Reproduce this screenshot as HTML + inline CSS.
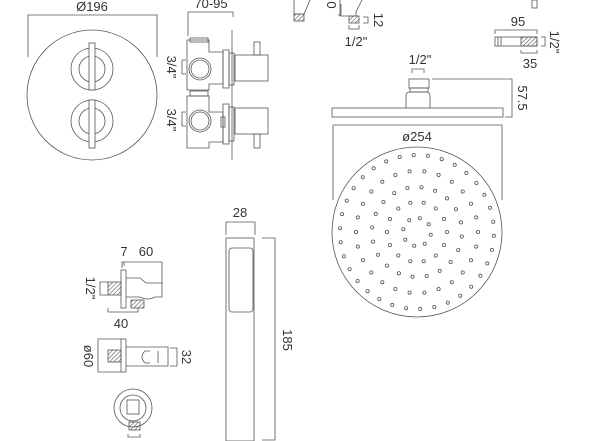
<!DOCTYPE html>
<html><head><meta charset="utf-8"><style>
html,body{margin:0;padding:0;background:#fff;width:600px;height:441px;overflow:hidden}
svg{display:block}
text{font-family:"Liberation Sans",sans-serif;font-size:13px;fill:#333}
</style></head><body>
<svg id="s" width="600" height="441" viewBox="0 0 600 441" xmlns="http://www.w3.org/2000/svg">
<defs>
<pattern id="h" width="3" height="3" patternUnits="userSpaceOnUse" patternTransform="rotate(45)"><line x1="0" y1="0" x2="0" y2="3" stroke="#555" stroke-width="1.2"/></pattern>
</defs>
<g fill="none" stroke="#555" stroke-width="0.8">
<path d="M28 57V15H157V57"/>
<circle cx="92" cy="95" r="65"/>
<circle cx="92" cy="69" r="21"/><circle cx="92" cy="69" r="13"/>
<rect x="89" y="43" width="6" height="47" fill="#fff"/>
<circle cx="92" cy="121" r="21"/><circle cx="92" cy="121" r="13"/>
<rect x="89" y="100" width="6" height="48" fill="#fff"/>
<path d="M188 36V12H233V17"/>
<line x1="232" y1="30" x2="232" y2="160"/>
<path d="M187 40H209V52H223V84H209V90H187Z"/>
<rect x="190" y="38" width="18" height="4"/>
<circle cx="200" cy="69" r="11"/><circle cx="200" cy="69" r="9"/>
<path d="M187 96H209V112H223V142H209V148H187Z"/>
<rect x="190" y="91" width="18" height="5"/>
<circle cx="200" cy="121" r="11"/><circle cx="200" cy="121" r="9"/>
<rect x="223" y="50" width="6" height="38"/><rect x="229" y="53" width="5" height="32"/>
<rect x="223" y="104" width="6" height="40"/><rect x="229" y="107" width="5" height="34"/>
<rect x="221" y="117" width="4" height="10"/>
<rect x="235" y="55" width="33" height="26"/>
<rect x="235" y="108" width="33" height="26"/>
<rect x="254" y="42" width="6" height="13"/>
<rect x="254" y="134" width="6" height="14"/>
<path d="M186 60H182V74H186"/><path d="M186 112H182V126H186"/>
<path d="M294 0V14H304L310 0"/>
<rect x="294" y="14" width="10" height="7" fill="url(#h)"/>
<path d="M340 0V16H356V12L362 0"/>
<rect x="349" y="16" width="10" height="7" fill="url(#h)"/>
<path d="M341 4V15H338"/>
<path d="M363 17H368V23H363"/>
<path d="M349 25V29H359V25"/>
<rect x="532" y="0" width="5" height="8"/>
<path d="M495 34V30H537V34"/>
<rect x="495" y="37" width="42" height="9"/>
<line x1="498" y1="37" x2="498" y2="46"/><line x1="501" y1="37" x2="501" y2="46"/>
<rect x="521" y="37" width="16" height="9" fill="url(#h)"/>
<path d="M541 37H545V46H541"/>
<path d="M521 50V53H537V50"/>
<path d="M412 73V69H424V73"/>
<rect x="409" y="79" width="20" height="9"/>
<rect x="410" y="88" width="18" height="4"/>
<path d="M406 108V96Q406 92 410 92H426Q430 92 430 96V108"/>
<rect x="332" y="108" width="171" height="9"/>
<path d="M432 79H512V117H505"/>
<path d="M333 200V125H502V200"/>
<circle cx="417" cy="232" r="85"/>
<g id="dots"></g>
<path d="M122 268V262H162V285"/>
<line x1="124" y1="262" x2="124" y2="266"/>
<rect x="121" y="270" width="5" height="38"/>
<rect x="108" y="282" width="13" height="13" fill="url(#h)"/>
<path d="M126 278H140L146 283H162V297H155Q148 301 140 297H126"/>
<rect x="131" y="300" width="13" height="8" fill="url(#h)"/>
<path d="M108 282H100V295H108"/>
<path d="M108 308V312H138V308"/>
<path d="M121 339H98V372H121"/>
<rect x="121" y="339" width="5" height="33"/>
<rect x="108" y="350" width="13" height="12" fill="url(#h)"/>
<path d="M126 347H168V366H126"/>
<path d="M145 351Q139 357 145 363 M158 351V363 M145 351H150 M145 363H150"/>
<path d="M170 348H177V366H170"/>
<circle cx="133" cy="408" r="19"/><circle cx="133" cy="408" r="13"/>
<rect x="127" y="400" width="12" height="14"/>
<rect x="129" y="422" width="11" height="8" fill="url(#h)"/>
<path d="M128 434V437H140V434"/>
<path d="M226 235V222H255V235"/>
<rect x="226" y="238" width="28" height="203"/>
<rect x="229" y="248" width="24" height="64" rx="3"/>
<path d="M262 238H275V440H262"/>
</g>
<text x="92" y="11" text-anchor="middle">Ø196</text>
<text x="211" y="8" text-anchor="middle">70-95</text>
<text transform="translate(167,67) rotate(90)" text-anchor="middle">3/4"</text>
<text transform="translate(167,120) rotate(90)" text-anchor="middle">3/4"</text>
<text transform="translate(327,5) rotate(90)" text-anchor="middle">0</text>
<text transform="translate(374,20) rotate(90)" text-anchor="middle">12</text>
<text x="356" y="46" text-anchor="middle">1/2"</text>
<text x="518" y="26" text-anchor="middle">95</text>
<text transform="translate(550,42) rotate(90)" text-anchor="middle">1/2"</text>
<text x="530" y="68" text-anchor="middle">35</text>
<text x="420" y="64" text-anchor="middle">1/2"</text>
<text transform="translate(518,98) rotate(90)" text-anchor="middle">57.5</text>
<text x="417" y="141" text-anchor="middle">ø254</text>
<text x="124" y="256" text-anchor="middle">7</text>
<text x="146" y="256" text-anchor="middle">60</text>
<text transform="translate(86,288) rotate(90)" text-anchor="middle">1/2"</text>
<text x="121" y="328" text-anchor="middle">40</text>
<text transform="translate(84,356) rotate(90)" text-anchor="middle">ø60</text>
<text transform="translate(182,357) rotate(90)" text-anchor="middle">32</text>
<text x="240" y="217" text-anchor="middle">28</text>
<text transform="translate(283,340) rotate(90)" text-anchor="middle">185</text>
<text transform="translate(283,440) rotate(90)" text-anchor="start">1</text>
</svg>
<script>
var g=document.getElementById('dots'),s='';
var rings=[[14,8,0.2],[30,14,0],[45,20,0.1],[61,26,0],[77,34,0.05]];
rings.forEach(function(r){for(var i=0;i<r[1];i++){var a=(i/r[1])*2*Math.PI+r[2];
s+='<circle cx="'+(417+r[0]*Math.cos(a)).toFixed(1)+'" cy="'+(232+r[0]*Math.sin(a)).toFixed(1)+'" r="1.6"/>';}});
g.innerHTML=s;
</script>
</body></html>
